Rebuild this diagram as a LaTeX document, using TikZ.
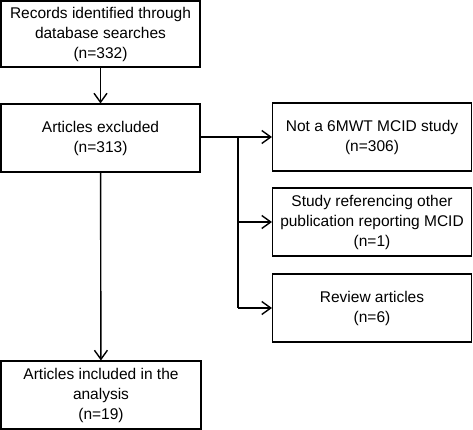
\documentclass[tikz,border=0pt]{standalone}
\usepackage{fontspec}
\setmainfont{Liberation Sans}
\usetikzlibrary{arrows.meta}
\begin{document}
\begin{tikzpicture}[x=1pt,y=-1pt,
  box/.style={draw,line width=1.1pt,inner sep=0pt,align=center,font=\fontsize{15.5}{20}\selectfont},
  arr/.style={line width=1.4pt,-{Straight Barb[length=9pt,width=13pt,line width=1.4pt]}},
  ln/.style={line width=1.4pt}]
\useasboundingbox (0,0) rectangle (473,430);
\node[box,minimum width=199pt,minimum height=66pt] (rec) at (100.5,34) {Records identified through\\database searches\\(n=332)};
\node[box,minimum width=199pt,minimum height=68pt] (exc) at (100.5,138) {Articles excluded\\(n=313)};
\node[box,minimum width=199pt,minimum height=68pt] (not) at (372,137) {Not a 6MWT MCID study\\(n=306)};
\node[box,minimum width=199pt,minimum height=68pt] (stu) at (372,222) {Study referencing other\\publication reporting MCID\\(n=1)};
\node[box,minimum width=199pt,minimum height=68pt] (rev) at (372,308) {Review articles\\(n=6)};
\node[box,minimum width=200pt,minimum height=68pt] (inc) at (101,395) {Articles included in the\\analysis\\(n=19)};
\coordinate (j1) at (238,137);
\coordinate (j3) at (238,308);
\draw[arr] (rec) -- (exc);
\draw[arr] (exc) -- (inc);
\draw[arr] (exc.east |- j1) -- (not.west |- j1);
\draw[ln] (j1) -- (j3);
\draw[arr] (j1 |- stu.west) -- (stu.west);
\draw[arr] (j3) -- (rev.west);
\end{tikzpicture}
\end{document}
